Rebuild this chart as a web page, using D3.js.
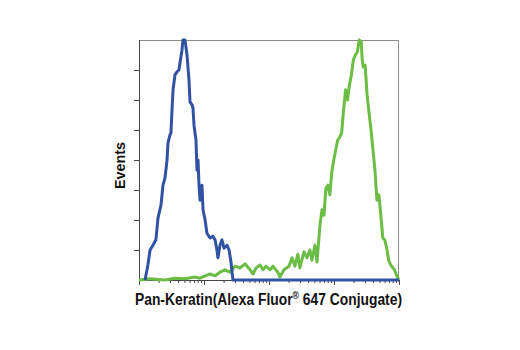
<!DOCTYPE html>
<html>
<head>
<meta charset="utf-8">
<script src="https://cdn.jsdelivr.net/npm/d3@7"></script>
<style>
  body { margin: 0; background: #fff; }
  text { font-family: "Liberation Sans", Arial, sans-serif; font-weight: bold; }
</style>
</head>
<body>
<div id="chart"></div>
<script>
// fluorescence intensity (log axis) and event counts
const blueIntensity = [1.24, 1.37, 1.48, 1.64, 1.82, 1.96, 2.18, 2.34, 2.51, 2.70, 2.79, 3.00, 3.10, 3.22, 3.34, 3.58, 3.84, 4.12, 4.27, 4.58, 4.75, 5.10, 5.48, 5.88, 6.09, 6.54, 6.77, 7.02, 7.53, 7.80, 8.09, 8.38, 8.68, 9.31, 9.66, 10.4, 11.1, 12.4, 13.7, 14.8, 15.8, 16.4, 17.6, 18.9, 20.3, 22.6, 24.3, 26.0, 27.9, 10000];
const blueEvents = [0, 25, 50, 58, 67, 103, 125, 158, 170, 200, 228, 242, 245, 283, 317, 342, 347, 350, 362, 383, 400, 400, 375, 333, 297, 292, 287, 258, 233, 183, 200, 158, 133, 158, 117, 100, 78, 70, 73, 67, 50, 37, 58, 67, 53, 58, 50, 30, 0, 0];

const greenIntensity = [1.0, 1.48, 2.51, 3.58, 5.10, 7.26, 8.68, 10.4, 12.4, 14.8, 17.6, 21.0, 25.1, 30.0, 35.8, 42.7, 51.1, 56.9, 63.0, 72.8, 80.9, 89.9, 104, 115, 137, 147, 170, 203, 226, 250, 278, 299, 345, 383, 426, 458, 509, 548, 609, 654, 701, 751, 805, 863, 925, 992, 1063, 1140, 1222, 1310, 1404, 1505, 1613, 1730, 1854, 1987, 2130, 2283, 2448, 2624, 2717, 2812, 3014, 3231, 3463, 3713, 3980, 4266, 4573, 4903, 5255, 5634, 6039, 6473, 6939, 7438, 8532, 9146, 10000];
const greenEvents = [0, 2, 0, 3, 2, 5, 3, 7, 10, 7, 13, 17, 13, 23, 20, 27, 17, 10, 20, 25, 17, 23, 17, 23, 13, 5, 17, 23, 37, 23, 43, 20, 47, 37, 50, 33, 58, 30, 92, 117, 108, 153, 158, 142, 180, 200, 217, 233, 238, 245, 283, 317, 300, 325, 342, 367, 375, 380, 400, 397, 367, 355, 358, 308, 278, 250, 217, 183, 133, 142, 108, 70, 67, 53, 33, 25, 17, 8, 0];

const xDomain = [1, 10000];
const yTicks = [50, 100, 150, 200, 250, 300, 350];
const yMax = 400;
const xLabel = "Pan-Keratin(Alexa Fluor";
const xLabelTail = " 647 Conjugate)";
const yLabel = "Events";

const width = 520, height = 350;
const margin = { top: 40, right: 121, bottom: 70, left: 139 };
const innerW = width - margin.left - margin.right;
const innerH = height - margin.top - margin.bottom;

const svg = d3.select("#chart").append("svg")
    .attr("width", width)
    .attr("height", height);

const g = svg.append("g")
    .attr("transform", `translate(${margin.left},${margin.top})`);

const x = d3.scaleLog().domain(xDomain).range([0, innerW]);
const y = d3.scaleLinear().domain([0, yMax]).range([innerH, 0]);

// frame: top and right in grey
g.append("path")
    .attr("d", `M0,0.5H${innerW - 0.5}V${innerH}`)
    .attr("fill", "none")
    .attr("stroke", "#8a8a8a")
    .attr("stroke-width", 1);

// y axis, ticks only
const yAxis = g.append("g")
    .call(d3.axisLeft(y).tickValues(yTicks).tickSize(5).tickFormat(""));
yAxis.select(".domain").attr("stroke", "#444").attr("d", `M0.5,0V${innerH}`);
yAxis.selectAll(".tick line").attr("stroke", "#444");

// x axis, log ticks
const xTickVals = [];
for (let d = 1; d < 10000; d *= 10) {
    for (let k = 1; k < 10; k++) xTickVals.push(d * k);
}
xTickVals.push(10000);
const xAxis = g.append("g")
    .attr("transform", `translate(0,${innerH})`)
    .call(d3.axisBottom(x).tickValues(xTickVals).tickSizeOuter(0).tickFormat(""));
xAxis.select(".domain").attr("stroke", "#444");
xAxis.selectAll(".tick line")
    .attr("stroke", "#444")
    .attr("y2", d => (Math.log10(d) % 1 === 0 ? 5 : 3));

const line = d3.line()
    .x(d => x(d[0]))
    .y(d => y(d[1]));

const greenData = greenIntensity.map((v, i) => [v, greenEvents[i]]);
const blueData = blueIntensity.map((v, i) => [v, blueEvents[i]]);

g.append("path")
    .datum(greenData)
    .attr("fill", "none")
    .attr("stroke", "#6cbd45")
    .attr("stroke-width", 3)
    .attr("stroke-linejoin", "round")
    .attr("d", line);

g.append("path")
    .datum(blueData)
    .attr("fill", "none")
    .attr("stroke", "#3152a3")
    .attr("stroke-width", 3)
    .attr("stroke-linejoin", "round")
    .attr("d", line);

// axis titles (condensed to match the narrow face of the original)
const xt = svg.append("text")
    .attr("x", 135)
    .attr("y", 305)
    .attr("textLength", 267)
    .attr("lengthAdjust", "spacingAndGlyphs")
    .attr("font-size", 16)
    .attr("fill", "#111");
xt.append("tspan").text(xLabel);
xt.append("tspan").text("®").attr("font-size", 10).attr("dy", -6);
xt.append("tspan").text(xLabelTail).attr("dy", 6);

svg.append("text")
    .attr("transform", `translate(125,189) rotate(-90)`)
    .attr("textLength", 47)
    .attr("lengthAdjust", "spacingAndGlyphs")
    .attr("font-size", 15)
    .attr("fill", "#111")
    .text(yLabel);
</script>
</body>
</html>
